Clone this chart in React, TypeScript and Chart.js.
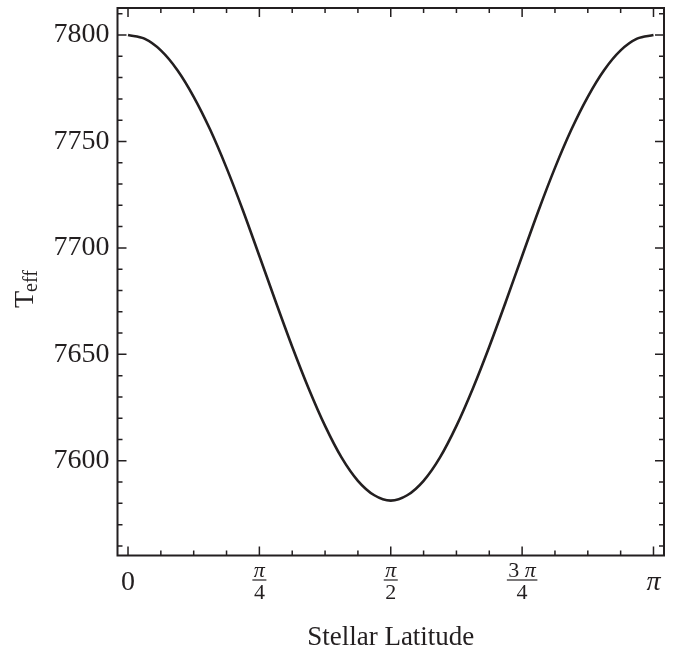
import React, { useEffect, useRef } from 'react';
import { Chart, registerables } from 'chart.js';

Chart.register(...registerables);

// Stellar latitude samples (radians, steps of π/32)
const LATITUDE = [
  0, 0.0982, 0.1963, 0.2945, 0.3927, 0.4909, 0.589, 0.6872, 0.7854, 0.8836, 0.9817,
  1.0799, 1.1781, 1.2763, 1.3744, 1.4726, 1.5708, 1.669, 1.7671, 1.8653, 1.9635,
  2.0617, 2.1598, 2.258, 2.3562, 2.4544, 2.5525, 2.6507, 2.7489, 2.8471, 2.9452,
  3.0434, 3.1416,
];

// Effective temperature
const T_EFF = [
  7800, 7798.3, 7792.8, 7783.6, 7771.0, 7755.6, 7737.6, 7717.6, 7696.2, 7674.6, 7653.6,
  7634.0, 7616.4, 7601.6, 7590.6, 7583.8, 7581.3, 7583.8, 7590.6, 7601.6, 7616.4,
  7634.0, 7653.6, 7674.6, 7696.2, 7717.6, 7737.6, 7755.6, 7771.0, 7783.6, 7792.8,
  7798.3, 7800,
];

const Y_TICKS = [7600, 7650, 7700, 7750, 7800];
const X_TICKS = [0, Math.PI / 4, Math.PI / 2, (3 * Math.PI) / 4, Math.PI];
const X_TICK_LABELS = ['0', 'π/4', 'π/2', '3 π/4', 'π'];
const X_TITLE = 'Stellar Latitude';
const Y_TITLE = 'T';
const Y_TITLE_SUB = 'eff';

const X_MIN = -0.02 * Math.PI;
const X_MAX = 1.02 * Math.PI;
const Y_MIN = 7555.5;
const Y_MAX = 7812.7;

const INK = '#231f20';
const FONT = '"Liberation Serif", "Times New Roman", serif';

// draw a string where π is set in italic
function drawMath(ctx: any, text: string, cx: number, y: number, size: number) {
  const parts = text.split(/(π)/).filter((p) => p.length);
  const fonts = parts.map((p) => (p === 'π' ? `italic ${size}px ${FONT}` : `${size}px ${FONT}`));
  let total = 0;
  const widths = parts.map((p, i) => {
    ctx.font = fonts[i];
    const w = ctx.measureText(p).width;
    total += w;
    return w;
  });
  let x = cx - total / 2;
  ctx.textAlign = 'left';
  parts.forEach((p, i) => {
    ctx.font = fonts[i];
    ctx.fillText(p, x, y);
    x += widths[i];
  });
  ctx.textAlign = 'center';
  return total;
}

const framePlugin = {
  id: 'mmaFrame',
  afterDraw(chart: any) {
    const { ctx, chartArea: a } = chart;
    const xs = chart.scales.x;
    const ys = chart.scales.y;
    ctx.save();
    ctx.strokeStyle = INK;
    ctx.fillStyle = INK;

    // ticks
    ctx.lineWidth = 1.5;
    ctx.beginPath();
    const MAJ = 9;
    const MIN = 5;
    for (let k = 0; k <= 16; k++) {
      const v = (k * Math.PI) / 16;
      const px = xs.getPixelForValue(v);
      const len = k % 4 === 0 ? MAJ : MIN;
      ctx.moveTo(px, a.bottom);
      ctx.lineTo(px, a.bottom - len);
      ctx.moveTo(px, a.top);
      ctx.lineTo(px, a.top + len);
    }
    for (let v = 7560; v <= 7810; v += 10) {
      const py = ys.getPixelForValue(v);
      const len = v % 50 === 0 ? MAJ : MIN;
      ctx.moveTo(a.left, py);
      ctx.lineTo(a.left + len, py);
      ctx.moveTo(a.right, py);
      ctx.lineTo(a.right - len, py);
    }
    ctx.stroke();

    // frame
    ctx.lineWidth = 2;
    ctx.strokeRect(a.left, a.top, a.right - a.left, a.bottom - a.top);

    // x tick labels
    ctx.textAlign = 'center';
    ctx.textBaseline = 'alphabetic';
    X_TICKS.forEach((v, i) => {
      const px = xs.getPixelForValue(v);
      const lab = X_TICK_LABELS[i];
      if (lab.indexOf('/') < 0) {
        drawMath(ctx, lab, px, a.bottom + 34, 28);
      } else {
        const [num, den] = lab.split('/');
        const wn = drawMath(ctx, num, px, a.bottom + 21.5, 22);
        const wd = drawMath(ctx, den, px, a.bottom + 43, 22);
        const w = Math.max(wn, wd) + 3;
        ctx.lineWidth = 1.2;
        ctx.beginPath();
        ctx.moveTo(px - w / 2, a.bottom + 24.5);
        ctx.lineTo(px + w / 2, a.bottom + 24.5);
        ctx.stroke();
      }
    });

    // x title
    ctx.font = `27px ${FONT}`;
    ctx.fillText(X_TITLE, (a.left + a.right) / 2, 645);

    // y title (rotated)
    ctx.save();
    ctx.translate(33, 308);
    ctx.rotate(-Math.PI / 2);
    ctx.textAlign = 'left';
    ctx.font = `28px ${FONT}`;
    ctx.fillText(Y_TITLE, 0, 0);
    const wT = ctx.measureText(Y_TITLE).width;
    ctx.font = `20px ${FONT}`;
    ctx.fillText(Y_TITLE_SUB, wT - 1, 4);
    ctx.restore();

    ctx.restore();
  },
};

export default function App() {
  const ref = useRef<HTMLCanvasElement | null>(null);

  useEffect(() => {
    if (!ref.current) return;
    const chart = new Chart(ref.current, {
      type: 'line',
      data: {
        datasets: [
          {
            data: LATITUDE.map((x, i) => ({ x, y: T_EFF[i] })),
            borderColor: INK,
            borderWidth: 2.6,
            pointRadius: 0,
            cubicInterpolationMode: 'monotone',
            fill: false,
          },
        ],
      },
      options: {
        animation: false,
        responsive: false,
        devicePixelRatio: 1,
        layout: { padding: { top: 8, right: 14, left: 0, bottom: 0 } },
        plugins: { legend: { display: false }, tooltip: { enabled: false } },
        scales: {
          x: {
            type: 'linear',
            min: X_MIN,
            max: X_MAX,
            grid: { display: false },
            border: { display: false },
            ticks: { display: false },
            afterFit: (s: any) => {
              s.height = 94.5;
              s.paddingLeft = 0;
              s.paddingRight = 0;
            },
          },
          y: {
            type: 'linear',
            min: Y_MIN,
            max: Y_MAX,
            grid: { display: false, drawTicks: false },
            border: { display: false },
            afterBuildTicks: (s: any) => {
              s.ticks = Y_TICKS.map((value) => ({ value }));
            },
            ticks: {
              padding: 8,
              color: INK,
              font: { family: FONT, size: 28 },
              callback: (v: any) => String(v),
            },
            afterFit: (s: any) => {
              s.width = 117.5;
              s.paddingTop = 0;
              s.paddingBottom = 0;
            },
          },
        },
      },
      plugins: [framePlugin],
    } as any);
    return () => chart.destroy();
  }, []);

  return (
    <div style={{ position: 'absolute', left: 0, top: 0, width: 678, height: 650, background: '#fff' }}>
      <canvas ref={ref} width={678} height={650} style={{ width: 678, height: 650, display: 'block' }} />
    </div>
  );
}
